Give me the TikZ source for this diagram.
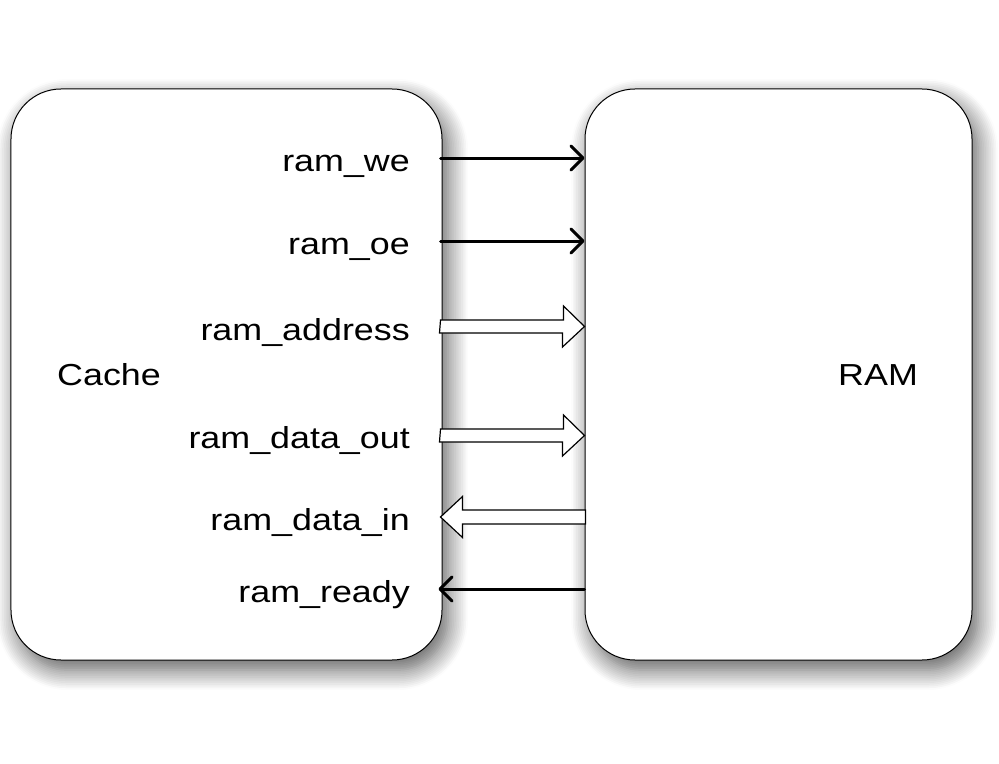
\documentclass[tikz,border=0pt]{standalone}
\usepackage{fontspec}
\setmainfont{Liberation Sans}
\newfontfamily\lblfont[FakeStretch=1.18]{Liberation Sans}
\usetikzlibrary{shadows.blur,arrows.meta}
\begin{document}
\begin{tikzpicture}[x=1bp,y=-1bp,
  box/.style={draw=black, line width=1bp, fill=white, rounded corners=50bp,
    minimum height=571bp, inner sep=0pt,
    blur shadow={shadow xshift=6bp, shadow yshift=-10bp, shadow blur radius=20bp, shadow opacity=65, shadow blur steps=12}},
  lbl/.style={font=\lblfont\fontsize{30.5}{36}\selectfont, anchor=base east, inner sep=0pt},
  title/.style={font=\lblfont\fontsize{30.5}{36}\selectfont, anchor=base west, inner sep=0pt},
  sig/.style={line width=3bp, line cap=round, -{Straight Barb[length=12bp, width=24bp, round]}},
  bus/.style={draw=black, line width=1.2bp, fill=white, line join=miter}]
\useasboundingbox (0,0) rectangle (999,764);
\node[box, minimum width=431bp] (cache) at (226.5,374.5) {};
\node[box, minimum width=387bp] (ram) at (778.5,374.5) {};
\node[title] (tc) at (57,385) {Cache};
\node[title] (tr) at (838,385) {RAM};
% signal rows
\coordinate (y1) at (0,158);
\coordinate (y2) at (0,241);
\coordinate (y3) at (0,326.5);
\coordinate (y4) at (0,435.5);
\coordinate (y5) at (0,517);
\coordinate (y6) at (0,589);
\node[lbl] (l1) at (410,171) {ram\_we};
\node[lbl] (l2) at (410,254) {ram\_oe};
\node[lbl] (l3) at (410,340) {ram\_address};
\node[lbl] (l4) at (410,448) {ram\_data\_out};
\node[lbl] (l5) at (410,530) {ram\_data\_in};
\node[lbl] (l6) at (410,602) {ram\_ready};
\draw[sig] ([xshift=-2bp]cache.east |- y1) -- (ram.west |- y1);
\draw[sig] ([xshift=-2bp]cache.east |- y2) -- (ram.west |- y2);
\draw[sig] (ram.west |- y6) -- ([xshift=-4bp]cache.east |- y6);
% hollow bus arrows
\draw[bus] ([xshift=-2bp]cache.east |- y3) ++(0,-6.5) -- ++(123,0) -- ++(0,-14) -- (ram.west |- y3)
  -- ++(-22,20.5) -- ++(0,-14) -- ++(-123,0) -- cycle;
\draw[bus] ([xshift=-2bp]cache.east |- y4) ++(0,-6.5) -- ++(123,0) -- ++(0,-14) -- (ram.west |- y4)
  -- ++(-22,20.5) -- ++(0,-14) -- ++(-123,0) -- cycle;
\draw[bus] ([xshift=-2bp]cache.east |- y5) -- ++(22,-20.5) -- ++(0,13.5) -- ++(123,0)
  -- ++(0,14) -- ++(-123,0) -- ++(0,13.5) -- cycle;
\end{tikzpicture}
\end{document}
